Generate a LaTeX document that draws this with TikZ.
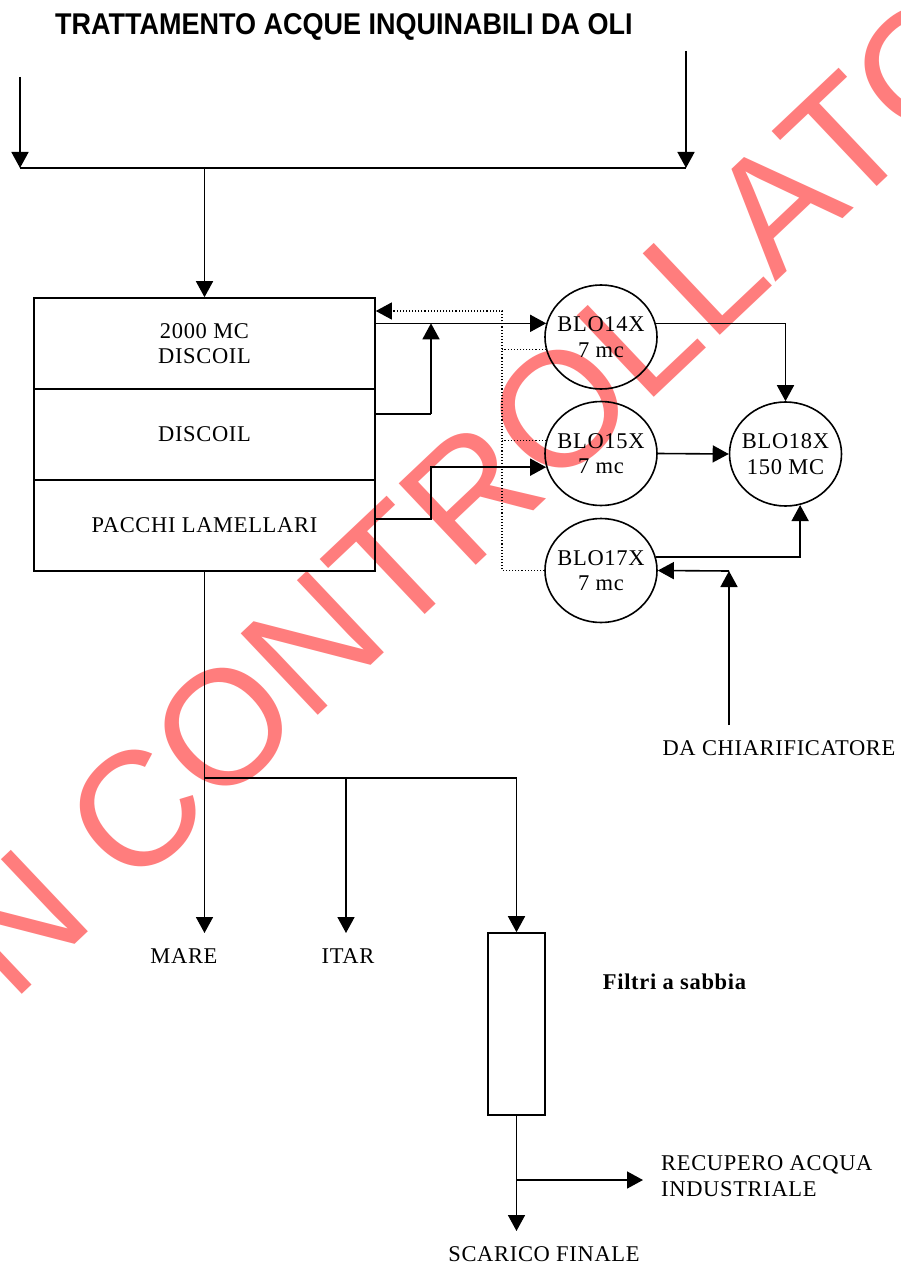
\documentclass[tikz,border=0pt]{standalone}
\usepackage{fontspec}
\setmainfont{Liberation Serif}[LetterSpace=3]
\newfontfamily\titlefont{Liberation Sans}[FakeStretch=0.9]
\newfontfamily\wmfont{Liberation Sans}
\usetikzlibrary{arrows.meta,shapes.geometric,calc}
\definecolor{wmred}{RGB}{255,125,125}
\newcommand\lblfont{\fontsize{22.5}{25.5}\selectfont}
\tikzset{
  ln/.style={line width=1.6pt},
  arr/.style={ln,-{Triangle[length=16pt,width=17pt]}},
  dotln/.style={line width=1.1pt, dotted},
  tank/.style={ellipse, draw, line width=1.6pt, minimum width=112pt, minimum height=104pt, inner sep=0pt},
  secbox/.style={draw, line width=1.6pt, minimum width=341pt, minimum height=91pt, inner sep=0pt, align=center, font=\lblfont},
  lbl/.style={font=\lblfont, inner sep=0pt, align=center},
}
\begin{document}
\begin{tikzpicture}[x=1pt,y=-1pt]
\useasboundingbox (0,0) rectangle (901,1268);
\fill[white] (0,0) rectangle (901,1268);
% watermark
\begin{scope}
\clip (0,0) rectangle (901,1268);
\node[anchor=base west, rotate=43.4, inner sep=0pt, text=wmred, font=\wmfont\fontsize{163}{163}\selectfont] (wm) at (-165,1172) {NON CONTROLLATO};
\end{scope}
% title
\node[anchor=base west, inner sep=0pt, font=\titlefont\bfseries\fontsize{30}{30}\selectfont] (title) at (55,35) {TRATTAMENTO ACQUE INQUINABILI DA OLI};
% main box
\node[secbox] (sec1) at (204.5,343.5) {2000 MC\\DISCOIL};
\node[secbox] (sec2) at (204.5,434.5) {DISCOIL};
\node[secbox] (sec3) at (204.5,525.5) {PACCHI LAMELLARI};
% tanks
\node[tank] (b14) at (601,337) {};
\node[tank] (b15) at (601,453.5) {};
\node[tank] (b17) at (601,570.5) {};
\node[tank] (b18) at (785.5,454) {};
\node[lbl] (t14) at (b14) {BLO14X\\7 mc};
\node[lbl] (t15) at (b15) {BLO15X\\7 mc};
\node[lbl] (t17) at (b17) {BLO17X\\7 mc};
\node[lbl] (t18) at (b18) {BLO18X\\150 MC};
% filter
\node[draw, ln, minimum width=57pt, minimum height=182pt, inner sep=0pt] (filt) at (516.5,1024) {};
% labels
\node[lbl] (mare) at (184,956) {MARE};
\node[lbl] (itar) at (348,956) {ITAR};
\node[lbl] (scar) at (544,1254) {SCARICO FINALE};
\node[lbl, anchor=west, align=left] (rec) at (661,1176) {RECUPERO ACQUA\\INDUSTRIALE};
\node[lbl, font=\lblfont\bfseries] (filtri) at (674.5,982) {Filtri a sabbia};
\node[lbl] (chiar) at (779,748) {DA CHIARIFICATORE};
% coordinates
\coordinate (tl) at (20,77);
\coordinate (tr) at (686,51);
\coordinate (hl) at (20,168);
\coordinate (hr) at (686,168);
\coordinate (hm) at (204.5,168);
\coordinate (j1) at (431,414);
\coordinate (j2) at (431,519);
\coordinate (dt) at (502,311);
\coordinate (ct) at (729,725);
\coordinate (cj) at (729,571);
\coordinate (bj) at (204.5,778);
\coordinate (bj2) at (346,778);
\coordinate (bj3) at (516.5,778);
\coordinate (mt) at (204.5,933);
\coordinate (it) at (346,933);
\coordinate (fj) at (516.5,1180);
\coordinate (ft) at (516.5,1231);
\coordinate (rt) at (643,1180);
% top inflows
\draw[arr] (tl) -- (hl);
\draw[arr] (tr) -- (hr);
\draw[ln] (hl) -- (hr);
\draw[arr] (hm) -- (sec1.north);
% box to tanks
\draw[arr] (b14.166 -| sec1.east) -- (b14.166);
\draw[ln] (j1 -| sec2.east) -- (j1);
\draw[arr] (j1) -- (j1 |- b14.166);
\draw[arr] (j2 -| sec3.east) -- (j2) |- (b15.194);
% dotted return
\draw[dotln, -{Triangle[length=16pt,width=17pt]}] (b17.west) -| (dt) -- (dt -| sec1.east);
\draw[dotln] (b14.193) -- (b14.193 -| dt);
\draw[dotln] (b15.167) -- (b15.167 -| dt);
% tanks to BLO18X
\draw[arr] (b14.14) -| (b18.north);
\draw[arr] (b15.east) -- (b18.west);
\draw[arr] (b17.14) -| (b18.286);
\draw[arr] (ct) -- (cj);
\draw[arr] (cj) -- (b17.east);
% outflows
\draw[arr] (sec3.south) -- (mt);
\draw[ln] (bj) -- (bj3);
\draw[arr] (bj2) -- (it);
\draw[arr] (bj3) -- (filt.north);
\draw[arr] (filt.south) -- (ft);
\draw[arr] (fj) -- (rt);
\end{tikzpicture}
\end{document}
